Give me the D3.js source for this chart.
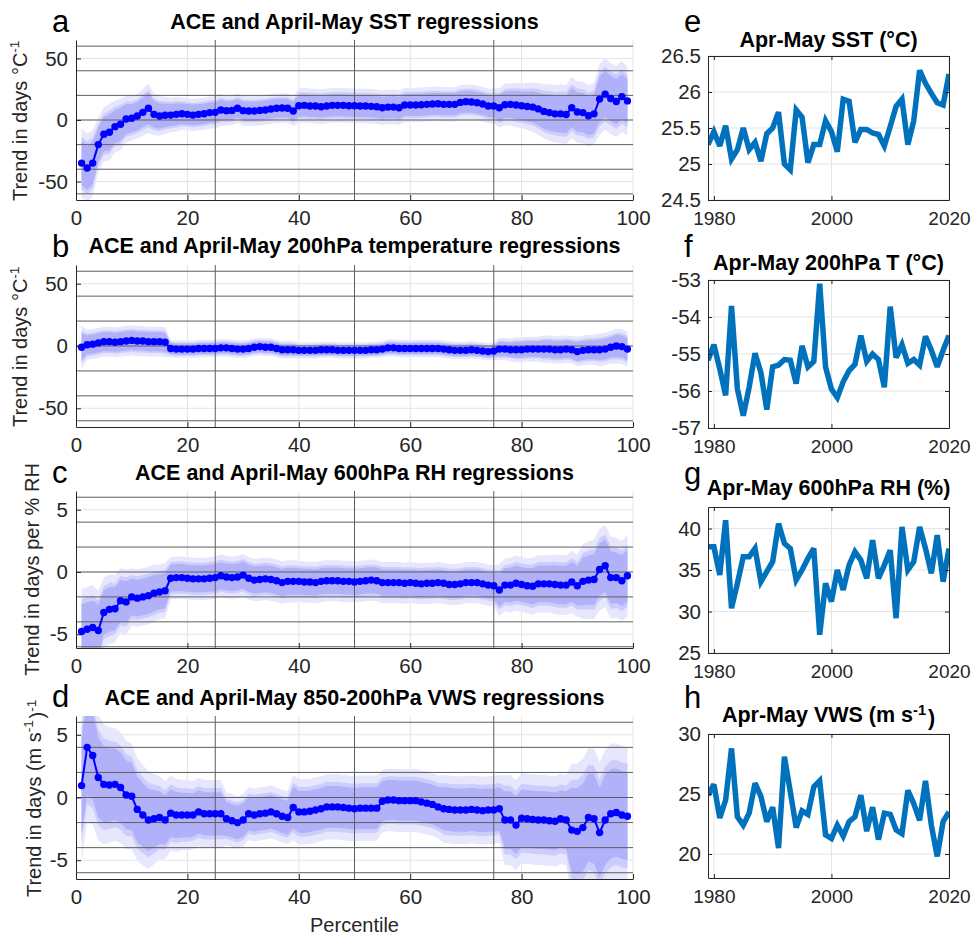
<!DOCTYPE html>
<html>
<head>
<meta charset="utf-8">
<script src="https://cdn.jsdelivr.net/npm/d3@7"></script>
<style>
  body { margin: 0; background: #fff; }
  svg { display: block; font-family: "Liberation Sans", Arial, Helvetica, sans-serif; }
</style>
</head>
<body>
<svg id="fig" width="971" height="935"></svg>
<script>
// ---------------------------------------------------------------------------
// Regression of ACE onto April-May environmental fields, by ACE percentile
// ---------------------------------------------------------------------------
const percentiles = d3.range(1, 100);            // 1 ... 99
const percentileTicks = [0, 20, 40, 60, 80, 100];
const quartileMarks = [25, 50, 75];

// confidence levels drawn as nested bands (CI arrays hold the 99% half-width)
const ciLevels = [2.576, 1.960, 1.645];

// (a) SST, days per degC
const sstTrend = [
  -35, -39, -35, -20, -11.6, -10, -5.4, -3.5, 0.8, 1.4, 3.2, 6.2, 9.5, 4.6, 3.2, 3.8, 4, 4.6, 5.1, 4.6,
  4, 4.6, 5.1, 6, 6.2, 8.1, 7.6, 7.8, 9.5, 7.6, 7.3, 7.3, 7.8, 8.1, 8.9, 9.5, 9.7, 9.5, 7.3, 11.6,
  11.9, 11.4, 11.4, 10.8, 11.4, 11.9, 11.9, 11.9, 11.6, 11.6, 11.4, 11.4, 11.1, 10.8, 10, 10.5, 10.5, 10, 12.2, 12.2,
  12.2, 12.4, 12.7, 13, 13.2, 12.7, 12.7, 12.7, 14.3, 14.9, 14.6, 14.1, 13, 11.4, 11.4, 10, 12.4, 12.7, 12.2, 11.6,
  11, 10.5, 9, 7, 6, 5, 5, 4.5, 10, 6.5, 6, 3.5, 5, 17, 21, 17.5, 15, 19, 15.5
];
const sstCI = [
  28, 28, 27, 22, 22, 23, 21, 21, 19, 18, 18, 19, 20, 17, 16, 15, 14, 14, 13, 13,
  13, 13, 13, 13, 13, 13, 12, 12, 12, 12, 12, 12, 12, 12, 12, 12, 12, 12, 12, 14,
  14, 14, 14, 14, 14, 14, 14, 14, 14, 14, 14, 14, 14, 14, 14, 14, 14, 14, 14, 14,
  14, 14, 14, 14, 14, 14, 14, 14, 14, 14, 14, 14, 14, 14, 14, 16, 17, 17, 18, 18,
  19, 20, 21, 22, 23, 23, 24, 24, 25, 25, 25, 25, 25, 29, 29, 29, 29, 29, 28
];

// (b) 200 hPa temperature, days per degC
const tempTrend = [
  -1, 1, 1.5, 2.5, 3.5, 3.5, 3, 3.5, 4, 4.5, 4, 4, 3.5, 3.5, 3.5, 3, -2, -2.5, -2.5, -2.5,
  -2.5, -2, -2, -2, -2, -1.5, -1.5, -2, -2.5, -2.5, -2, -1, -0.5, -1, -1, -2, -3, -3, -3, -3.5,
  -3.5, -3.5, -3.5, -3, -3, -3, -3.5, -3.5, -3.5, -3.5, -3.5, -3.5, -3, -3, -2.5,
  -1.5, -1.5, -2, -2, -2, -2, -2, -2, -2, -2, -2.5,
  -3, -3.5, -3.5, -3.5, -3, -3.5, -4, -4.5, -4,
  -2.5, -2.5, -3, -3, -3, -2.5, -2.5, -2.5, -2.5, -2.5, -3, -3, -2.5, -3,
  -4.5, -3.5, -3, -3, -3, -2.5, -1, 0, -0.5, -2.5
];
const tempCI = [
  17, 12, 12, 12, 12, 12, 12, 12, 12, 12, 12, 12, 12, 12, 12, 12,
  7, 7, 7, 7, 7, 7, 7, 7, 7, 7, 7, 7, 7, 7, 7, 7, 7, 7, 7, 7, 7, 7, 7,
  6.5, 6.5, 6.5, 6.5, 6.5, 6.5, 6.5, 6.5, 6.5, 6.5, 6.5, 6.5, 6.5, 6.5, 6.5, 6.5,
  7, 7, 7, 7, 7, 7, 7, 7, 7, 7, 7, 7, 7, 7, 7, 7, 7, 7, 7, 7,
  9, 9, 9, 10, 10, 10, 10, 10, 11, 11, 11, 11, 11, 11, 12, 12, 12, 12, 13, 13, 13, 14, 14, 14
];

// (c) 600 hPa relative humidity, days per % RH
const rhTrend = [
  -4.77, -4.6, -4.45, -4.7, -3.25, -3.0, -2.95, -2.3, -2.4, -2.0, -2.1, -2.0, -1.9, -1.7, -1.6, -1.5,
  -0.5, -0.45, -0.45, -0.5, -0.55, -0.55, -0.55, -0.5, -0.45, -0.3, -0.4, -0.45, -0.4, -0.25, -0.5, -0.65, -0.6, -0.55, -0.6, -0.7, -0.85, -0.75, -0.75, -0.75,
  -0.8, -0.8, -0.85, -0.75, -0.7, -0.7, -0.7, -0.75, -0.75, -0.8, -0.75, -0.7, -0.65, -0.7, -0.85, -0.85, -0.85, -0.85, -0.9, -0.85,
  -0.9, -0.95, -0.9, -0.9, -0.85, -0.9, -1.0, -1.0, -0.95, -0.85, -0.85, -0.85, -0.95, -1.05, -1.1, -1.45, -1.05, -1.05, -0.9,
  -1.0, -1.1, -1.15, -0.95, -0.95, -0.95, -1.0, -1.05, -1.05, -0.8, -1.1, -0.75, -0.65, -0.6, 0.2, 0.5, -0.45, -0.45, -0.7, -0.3
];
const rhCI = [
  3.4, 3.4, 3.4, 3.2, 2.8, 2.8, 2.7, 2.6, 2.6, 2.3, 2.3, 2.3, 2.3, 2.3, 2.2, 2.2,
  1.7, 1.7, 1.7, 1.7, 1.7, 1.7, 1.7, 1.7, 1.7, 1.7, 1.7, 1.7, 1.7, 1.7, 1.7, 1.7, 1.7, 1.7, 1.7, 1.7, 1.7, 1.7, 1.7,
  1.65, 1.65, 1.65, 1.65, 1.65, 1.65, 1.65, 1.65, 1.65, 1.65, 1.65, 1.65, 1.65, 1.65, 1.65, 1.65, 1.65, 1.65,
  1.65, 1.65, 1.65, 1.65, 1.65, 1.65, 1.65, 1.65, 1.65, 1.65, 1.65, 1.65, 1.65, 1.65, 1.65, 1.65, 1.65, 1.65,
  2.1, 2.1, 2.2, 2.2, 2.2, 2.2, 2.3, 2.3, 2.3, 2.3, 2.4, 2.4, 2.4, 2.5, 2.5,
  3.0, 3.1, 3.2, 3.3, 3.3, 3.3, 3.2, 3.2, 3.3
];

// (d) 850-200 hPa vertical wind shear, days per (m/s)
const vwsTrend = [
  0.95, 4.0, 3.35, 1.6, 1.05, 1.0, 1.05, 0.8, 0.2, 0.1, -0.95, -1.4, -1.8, -1.7, -1.6, -1.8, -1.25, -1.4, -1.4, -1.4,
  -1.4, -1.15, -1.3, -1.3, -1.3, -1.3, -1.7, -1.85, -2.0, -1.8, -1.3, -1.4, -1.3, -1.25, -1.15, -1.3, -1.5, -1.6, -0.8, -1.15,
  -1.15, -1.1, -1.0, -0.9, -0.75, -0.75, -0.75, -0.8, -0.85, -0.9, -0.85, -0.85, -0.85, -0.85, -0.3, -0.2, -0.2, -0.25, -0.25, -0.25,
  -0.25, -0.35, -0.45, -0.55, -0.75, -0.9, -0.95, -1.0, -1.0, -1.0, -0.95, -1.0, -1.05, -1.0, -1.0, -0.9, -1.8, -1.8, -2.2, -1.65,
  -1.7, -1.75, -1.8, -1.8, -1.85, -1.9, -1.7, -1.8, -2.6, -2.7, -2.4, -1.6, -1.7, -2.8, -1.8, -1.3, -1.2, -1.4, -1.5
];
const vwsCI = [
  6, 6, 5.5, 5, 4.8, 4.6, 4.5, 4.4, 4.3, 4.2, 4.1, 4.0, 3.9, 3.6, 3.3, 3.1, 3.0, 2.9, 2.8, 2.8,
  2.7, 2.7, 2.7, 2.7, 2.7, 2.7,
  2.1, 2.1, 2.1, 2.1, 2.1, 2.1, 2.1, 2.1, 2.1, 2.1, 2.1, 2.1,
  2.6, 2.6, 2.6, 2.6, 2.6, 2.6, 2.6, 2.6, 2.6, 2.6, 2.6, 2.6, 2.6, 2.6, 2.6, 2.6,
  2.5, 2.5, 2.5, 2.5, 2.5, 2.5, 2.5, 2.5, 2.5, 2.5, 2.5,
  2.7, 2.7, 2.7, 2.7, 2.7, 2.7, 2.7, 2.7, 2.7, 2.7, 2.7,
  3.6, 3.6, 3.6, 3.6, 3.6, 3.6, 3.6, 3.6, 3.6, 3.6, 3.6, 3.6,
  5.3, 5.4, 5.5, 5.5, 5.6, 5.6, 5.6, 5.6, 5.5, 5.5, 5.5
];

// ---------------------------------------------------------------------------
// April-May time series, 1979-2020
// ---------------------------------------------------------------------------
const years = d3.range(1979, 2021);
const yearTicks = [1980, 2000, 2020];

const sstSeries = [
  25.27, 25.45, 25.25, 25.53, 25.07, 25.2, 25.5, 25.2, 25.3, 25.04,
  25.42, 25.5, 25.72, 25.0, 24.92, 25.75, 25.65, 25.02, 25.27, 25.27,
  25.6, 25.45, 25.17, 25.9, 25.87, 25.3, 25.48, 25.48, 25.43, 25.41,
  25.25, 25.52, 25.8, 25.9, 25.27, 25.6, 26.3, 26.12, 25.98, 25.85,
  25.82, 26.25
];
const t200Series = [
  -55.17, -54.75, -55.4, -56.12, -53.7, -55.94, -56.67, -55.9, -54.98, -55.5,
  -56.5, -55.35, -55.3, -55.15, -55.17, -55.8, -54.78, -55.35, -55.2, -53.1,
  -55.35, -55.95, -56.18, -55.75, -55.45, -55.28, -54.5, -55.2, -55.0, -55.15,
  -55.9, -53.72, -55.1, -54.75, -55.25, -55.15, -55.3, -54.52, -54.9, -55.35,
  -54.9, -54.5
];
const rhSeries = [
  37.8, 37.8, 34.4, 41.0, 30.4, 33.4, 36.6, 36.6, 37.6, 33.6,
  34.8, 36.0, 40.6, 38.2, 37.6, 33.8, 35.0, 36.4, 37.6, 27.2,
  33.4, 31.2, 35.0, 32.6, 35.6, 37.2, 36.2, 34.0, 38.6, 34.0,
  35.6, 37.4, 29.2, 40.2, 35.0, 36.0, 40.2, 37.6, 34.6, 39.2,
  33.6, 37.6
];
const vwsSeries = [
  24.9, 25.8, 23.0, 24.5, 28.8, 23.1, 22.4, 23.4, 25.9, 24.8,
  22.7, 23.9, 20.5, 28.1, 25.2, 22.2, 23.6, 23.3, 25.6, 26.1,
  21.6, 21.3, 22.4, 21.5, 22.7, 23.1, 24.9, 21.9, 23.9, 21.2,
  23.4, 23.3, 22.0, 21.7, 25.3, 24.2, 22.8, 26.1, 22.4, 19.8,
  22.7, 23.5
];

// ---------------------------------------------------------------------------
// Styling
// ---------------------------------------------------------------------------
const AXIS = "#262626";
const GRID = "#e4e4e4";
const GUIDE = "#5e5e5e";
const TREND_BLUE = "#0000ff";
const BAND_FILL = ["#e6e6fd", "#cdcdfb", "#b1b1f9"];
const SERIES_BLUE = "#0072bd";
const TICK_FONT = 20.5;
const YEAR_FONT = 19;
const TITLE_FONT = 21.5;
const LABEL_FONT = 20;
const LETTER_FONT = 31;

const svg = d3.select("#fig");
const defs = svg.append("defs");

// write text with optional superscript pieces
function richText(sel, parts) {
  parts.forEach(p => {
    if (p.sup) {
      sel.append("tspan").attr("dy", "-0.45em").attr("font-size", "68%").text(p.t);
      sel.append("tspan").attr("dy", "0.45em").text("\u200A");
    } else {
      sel.append("tspan").text(p.t);
    }
  });
}

function styleAxis(g, size) {
  g.selectAll(".domain").attr("stroke", AXIS).attr("stroke-width", 1);
  g.selectAll(".tick line").attr("stroke", AXIS).attr("stroke-width", 1);
  g.selectAll(".tick text").attr("fill", AXIS).attr("font-size", size || TICK_FONT)
    .attr("font-family", "Liberation Sans, Arial, sans-serif");
}

// ---------------------------------------------------------------------------
// Left column: trend by percentile with nested confidence bands
// ---------------------------------------------------------------------------
const LEFT = { x0: 76, x1: 633 };

function trendPanel(cfg) {
  const x = d3.scaleLinear().domain([0, 100]).range([LEFT.x0, LEFT.x1]);
  const y = d3.scaleLinear().domain(cfg.domain).range([cfg.bottom, cfg.top]);
  const g = svg.append("g");

  const clipId = "clip-" + cfg.letter;
  defs.append("clipPath").attr("id", clipId).append("rect")
    .attr("x", LEFT.x0).attr("y", cfg.top)
    .attr("width", LEFT.x1 - LEFT.x0).attr("height", cfg.bottom - cfg.top);

  // light grid at tick positions
  g.append("g").selectAll("line").data(percentileTicks.slice(1)).join("line")
    .attr("x1", d => x(d)).attr("x2", d => x(d))
    .attr("y1", cfg.top).attr("y2", cfg.bottom)
    .attr("stroke", GRID);
  g.append("g").selectAll("line").data(cfg.ticks).join("line")
    .attr("x1", LEFT.x0).attr("x2", LEFT.x1)
    .attr("y1", d => y(d)).attr("y2", d => y(d))
    .attr("stroke", GRID);

  const plot = g.append("g").attr("clip-path", `url(#${clipId})`);

  // nested confidence bands, widest first
  ciLevels.forEach((z, i) => {
    const k = z / ciLevels[0];
    const area = d3.area()
      .x((d, j) => x(percentiles[j]))
      .y0((d, j) => y(cfg.trend[j] - cfg.ci[j] * k))
      .y1((d, j) => y(cfg.trend[j] + cfg.ci[j] * k));
    plot.append("path").datum(cfg.trend).attr("d", area).attr("fill", BAND_FILL[i]);
  });

  // guide lines: quartile verticals and regular horizontals
  plot.append("g").selectAll("line").data(quartileMarks).join("line")
    .attr("x1", d => x(d)).attr("x2", d => x(d))
    .attr("y1", cfg.top).attr("y2", cfg.bottom)
    .attr("stroke", GUIDE).attr("stroke-width", 1);
  plot.append("g").selectAll("line").data(cfg.guides).join("line")
    .attr("x1", LEFT.x0).attr("x2", LEFT.x1)
    .attr("y1", d => y(d)).attr("y2", d => y(d))
    .attr("stroke", GUIDE).attr("stroke-width", 1);

  // trend line with markers
  const line = d3.line().x((d, j) => x(percentiles[j])).y(d => y(d));
  plot.append("path").datum(cfg.trend).attr("d", line)
    .attr("fill", "none").attr("stroke", TREND_BLUE).attr("stroke-width", 2);
  plot.append("g").selectAll("circle").data(cfg.trend).join("circle")
    .attr("cx", (d, j) => x(percentiles[j])).attr("cy", d => y(d))
    .attr("r", 3.7).attr("fill", TREND_BLUE);

  // axes (left and bottom only)
  const ax = g.append("g").attr("transform", `translate(${LEFT.x0},0)`)
    .call(d3.axisLeft(y).tickValues(cfg.ticks).tickSize(-5).tickSizeOuter(0).tickPadding(8));
  styleAxis(ax);
  const bx = g.append("g").attr("transform", `translate(0,${cfg.bottom})`)
    .call(d3.axisBottom(x).tickValues(percentileTicks).tickSize(-5).tickSizeOuter(0).tickPadding(10));
  styleAxis(bx);
  bx.selectAll(".tick text").attr("dy", "0.71em");

  // panel letter, title, y label
  svg.append("text").attr("x", 52).attr("y", cfg.letterY)
    .attr("font-size", LETTER_FONT).attr("fill", "#000").text(cfg.letter);
  svg.append("text").attr("x", (LEFT.x0 + LEFT.x1) / 2).attr("y", cfg.titleY)
    .attr("text-anchor", "middle").attr("font-size", TITLE_FONT).attr("font-weight", "bold")
    .attr("fill", "#000").text(cfg.title);
  const yl = svg.append("text")
    .attr("transform", `translate(${cfg.ylabelX},${(cfg.top + cfg.bottom) / 2}) rotate(-90)`)
    .attr("text-anchor", "middle").attr("dominant-baseline", "central")
    .attr("font-size", LABEL_FONT).attr("fill", AXIS);
  richText(yl, cfg.ylabel);
}

const guides20 = [-60, -40, -20, 0, 20, 40, 60];
const guides2 = [-6, -4, -2, 0, 2, 4, 6];

trendPanel({
  letter: "a", title: "ACE and April-May SST regressions",
  top: 40, bottom: 200, domain: [-65, 65], ticks: [-50, 0, 50], guides: guides20,
  trend: sstTrend, ci: sstCI, letterY: 32, titleY: 29, ylabelX: 20,
  ylabel: [{ t: "Trend in days \u00B0C" }, { t: "-1", sup: true }]
});
trendPanel({
  letter: "b", title: "ACE and April-May 200hPa temperature regressions",
  top: 265, bottom: 427, domain: [-65, 65], ticks: [-50, 0, 50], guides: guides20,
  trend: tempTrend, ci: tempCI, letterY: 257, titleY: 253, ylabelX: 20,
  ylabel: [{ t: "Trend in days \u00B0C" }, { t: "-1", sup: true }]
});
trendPanel({
  letter: "c", title: "ACE and April-May 600hPa RH regressions",
  top: 491, bottom: 648, domain: [-6.1, 6.5], ticks: [-5, 0, 5], guides: guides2,
  trend: rhTrend, ci: rhCI, letterY: 483, titleY: 480, ylabelX: 32,
  ylabel: [{ t: "Trend in days per % RH" }]
});
trendPanel({
  letter: "d", title: "ACE and April-May 850-200hPa VWS regressions",
  top: 716, bottom: 879, domain: [-6.5, 6.5], ticks: [-5, 0, 5], guides: guides2,
  trend: vwsTrend, ci: vwsCI, letterY: 707, titleY: 705, ylabelX: 34,
  ylabel: [{ t: "Trend in days (m s" }, { t: "-1", sup: true }, { t: ")" }, { t: "-1", sup: true }]
});

svg.append("text").attr("x", (LEFT.x0 + LEFT.x1) / 2).attr("y", 932)
  .attr("text-anchor", "middle").attr("font-size", LABEL_FONT).attr("fill", AXIS)
  .text("Percentile");

// ---------------------------------------------------------------------------
// Right column: April-May time series
// ---------------------------------------------------------------------------
const RIGHT = { x0: 708, x1: 949 };

function seriesPanel(cfg) {
  const x = d3.scaleLinear().domain([1979, 2020]).range([RIGHT.x0, RIGHT.x1]);
  const y = d3.scaleLinear().domain(cfg.domain).range([cfg.bottom, cfg.top]);
  const g = svg.append("g");

  const clipId = "clip-" + cfg.letter;
  defs.append("clipPath").attr("id", clipId).append("rect")
    .attr("x", RIGHT.x0).attr("y", cfg.top)
    .attr("width", RIGHT.x1 - RIGHT.x0).attr("height", cfg.bottom - cfg.top);

  g.append("g").selectAll("line").data(yearTicks).join("line")
    .attr("x1", d => x(d)).attr("x2", d => x(d))
    .attr("y1", cfg.top).attr("y2", cfg.bottom).attr("stroke", GRID);
  g.append("g").selectAll("line").data(cfg.ticks).join("line")
    .attr("x1", RIGHT.x0).attr("x2", RIGHT.x1)
    .attr("y1", d => y(d)).attr("y2", d => y(d)).attr("stroke", GRID);

  const line = d3.line().x((d, j) => x(years[j])).y(d => y(d));
  g.append("g").attr("clip-path", `url(#${clipId})`)
    .append("path").datum(cfg.series).attr("d", line)
    .attr("fill", "none").attr("stroke", SERIES_BLUE).attr("stroke-width", 5.5)
    .attr("stroke-linejoin", "miter").attr("stroke-miterlimit", 3);

  // box with inward ticks on all sides
  const ax = g.append("g").attr("transform", `translate(${RIGHT.x0},0)`)
    .call(d3.axisLeft(y).tickValues(cfg.ticks).tickFormat(cfg.fmt).tickSize(-4).tickSizeOuter(0).tickPadding(7));
  styleAxis(ax);
  const axr = g.append("g").attr("transform", `translate(${RIGHT.x1},0)`)
    .call(d3.axisRight(y).tickValues(cfg.ticks).tickSize(-4).tickSizeOuter(0).tickFormat(""));
  styleAxis(axr);
  const bx = g.append("g").attr("transform", `translate(0,${cfg.bottom})`)
    .call(d3.axisBottom(x).tickValues(yearTicks).tickFormat(d3.format("d")).tickSize(-4).tickSizeOuter(0).tickPadding(12));
  styleAxis(bx, YEAR_FONT);
  bx.selectAll(".tick text").attr("dy", "0.71em");
  const tx = g.append("g").attr("transform", `translate(0,${cfg.top})`)
    .call(d3.axisTop(x).tickValues(yearTicks).tickSize(-4).tickSizeOuter(0).tickFormat(""));
  styleAxis(tx);

  svg.append("text").attr("x", 684).attr("y", cfg.letterY)
    .attr("font-size", LETTER_FONT).attr("fill", "#000").text(cfg.letter);
  const t = svg.append("text").attr("x", (RIGHT.x0 + RIGHT.x1) / 2).attr("y", cfg.titleY)
    .attr("text-anchor", "middle").attr("font-size", TITLE_FONT).attr("font-weight", "bold")
    .attr("fill", "#000");
  richText(t, cfg.title);
}

seriesPanel({
  letter: "e", title: [{ t: "Apr-May SST (\u00B0C)" }],
  top: 56, bottom: 200, domain: [24.5, 26.5], ticks: [24.5, 25, 25.5, 26, 26.5], fmt: d3.format("~g"),
  series: sstSeries, letterY: 32, titleY: 47
});
seriesPanel({
  letter: "f", title: [{ t: "Apr-May 200hPa T (\u00B0C)" }],
  top: 280, bottom: 428, domain: [-57, -53], ticks: [-57, -56, -55, -54, -53], fmt: d => String(d),
  series: t200Series, letterY: 257, titleY: 270
});
seriesPanel({
  letter: "g", title: [{ t: "Apr-May 600hPa RH (%)" }],
  top: 507, bottom: 653, domain: [25, 42.6], ticks: [25, 30, 35, 40], fmt: d3.format("d"),
  series: rhSeries, letterY: 484, titleY: 495
});
seriesPanel({
  letter: "h", title: [{ t: "Apr-May VWS (m s" }, { t: "-1", sup: true }, { t: ")" }],
  top: 734, bottom: 878, domain: [18, 30], ticks: [20, 25, 30], fmt: d3.format("d"),
  series: vwsSeries, letterY: 708, titleY: 722
});

// plain hyphen-minus for negative tick labels
svg.selectAll(".tick text").each(function () {
  const s = d3.select(this);
  s.text(s.text().replace(/\u2212/g, "-"));
});
</script>
</body>
</html>
